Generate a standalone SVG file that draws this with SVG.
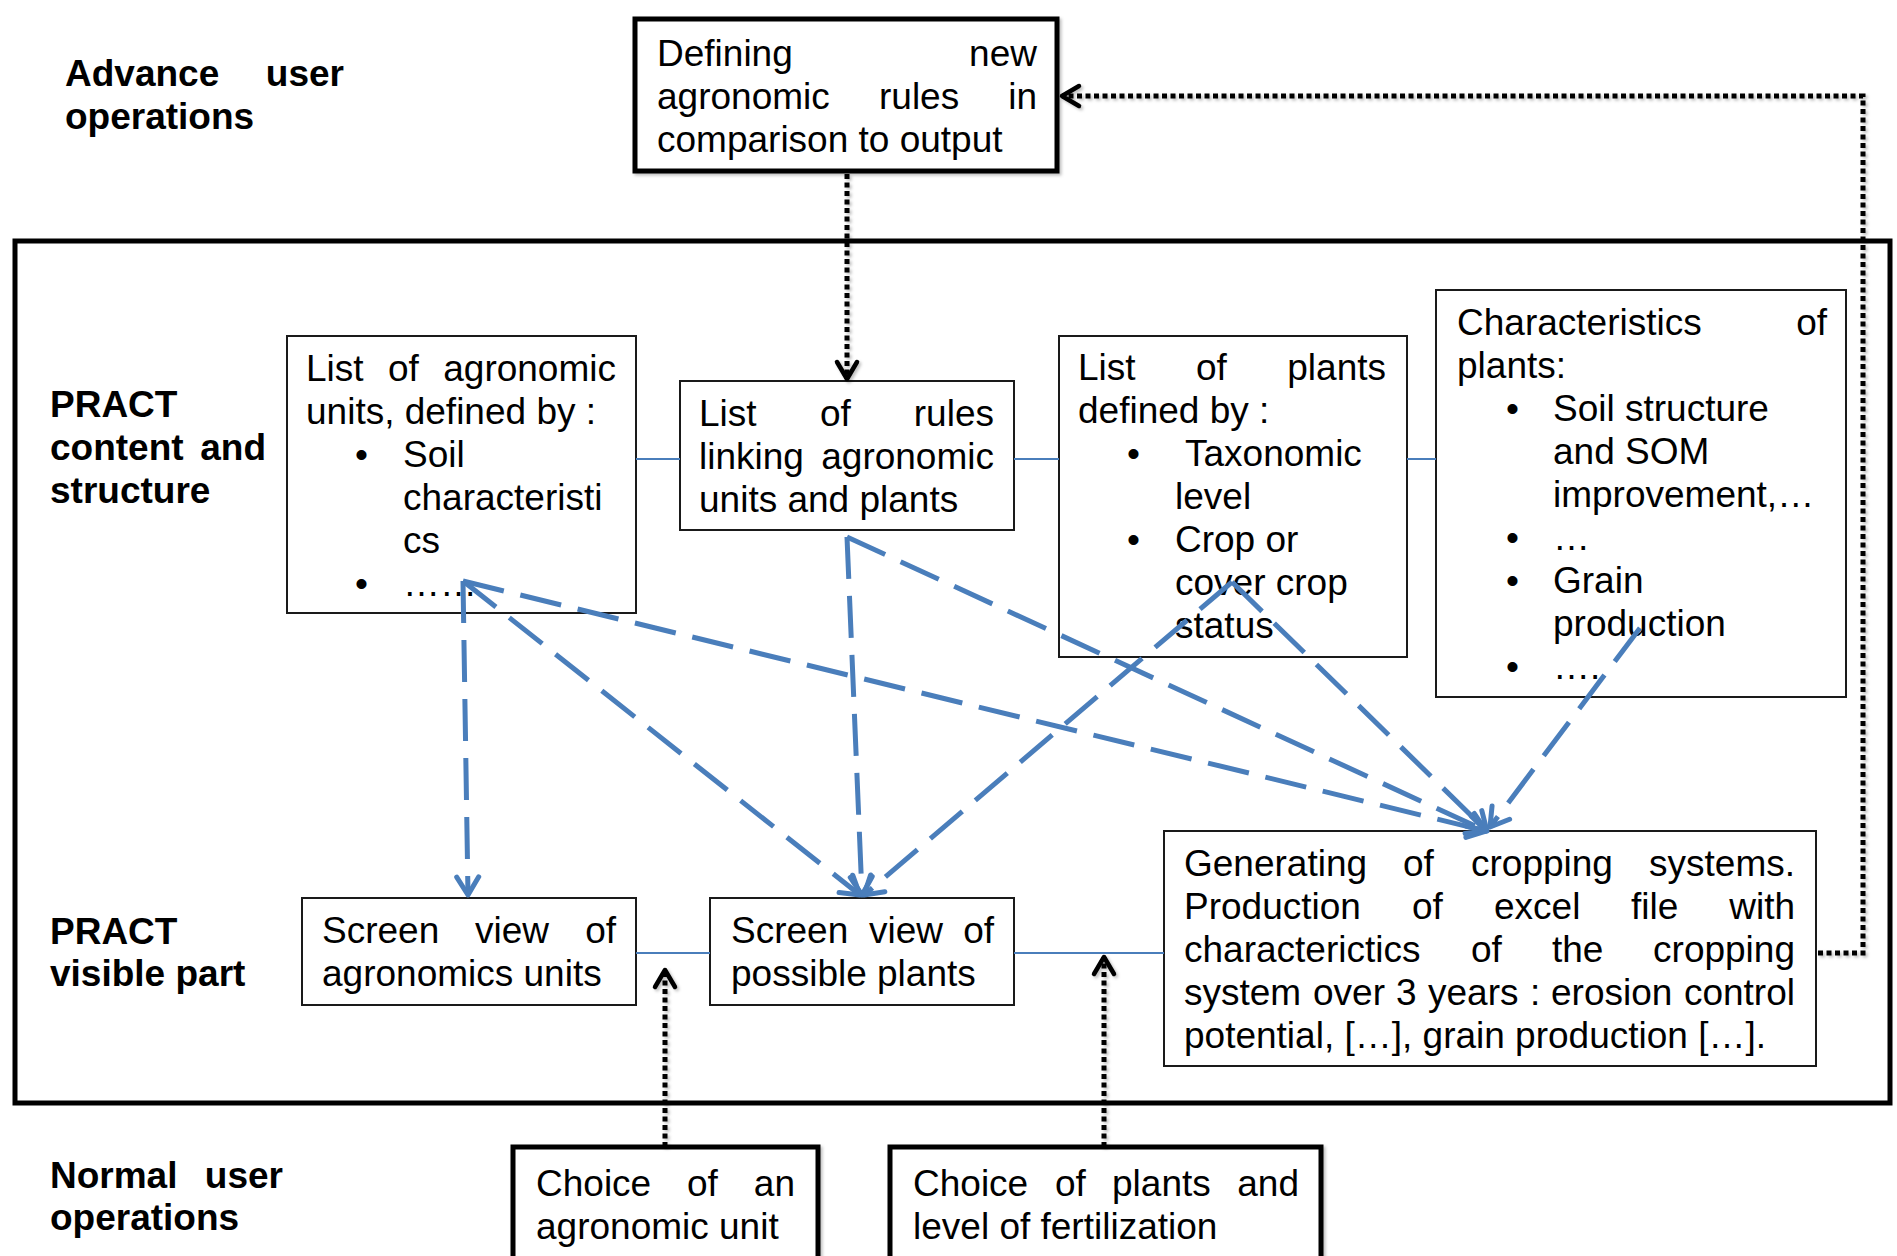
<svg xmlns="http://www.w3.org/2000/svg" width="1897" height="1256" viewBox="0 0 1897 1256">
<style>
text{font-family:"Liberation Sans",Arial,sans-serif;font-size:37px;fill:#000}
.b{font-weight:bold}
.e{text-anchor:end}
.box{fill:#fff;stroke:#1a1a1a;stroke-width:2}
.thick{fill:#fff;stroke:#000;stroke-width:5}
.link{stroke:#4a7ebb;stroke-width:2;fill:none}
.dash{stroke:#4a7ebb;stroke-width:5;fill:none;stroke-dasharray:42 17;marker-end:url(#ab)}
.dot{stroke:#000;stroke-width:5;fill:none;stroke-dasharray:5 3.5;marker-end:url(#ak);filter:url(#sh)}
</style>
<defs>
<marker id="ab" markerUnits="userSpaceOnUse" orient="auto" markerWidth="40" markerHeight="40" refX="20" refY="20" overflow="visible">
<path d="M2 9 L20 20 L2 31" fill="none" stroke="#4a7ebb" stroke-width="5" stroke-linecap="round" stroke-linejoin="round" stroke-dasharray="none"/>
</marker>
<marker id="ak" markerUnits="userSpaceOnUse" orient="auto" markerWidth="40" markerHeight="40" refX="20" refY="20" overflow="visible">
<path d="M3 10 L20 20 L3 30" fill="none" stroke="#000" stroke-width="4.5" stroke-linecap="round" stroke-linejoin="round" stroke-dasharray="none"/>
</marker>
<filter id="sh" filterUnits="userSpaceOnUse" x="0" y="0" width="1897" height="1256">
<feDropShadow dx="2" dy="2" stdDeviation="1.5" flood-color="#000" flood-opacity="0.25"/>
</filter>
</defs>
<rect width="1897" height="1256" fill="#fff"/>

<g id="labels">
<text class="b" x="65" y="86">Advance</text><text class="b e" x="344" y="86">user</text>
<text class="b" x="65" y="129">operations</text>
<text class="b" x="50" y="417">PRACT</text>
<text class="b" x="50" y="460">content</text><text class="b e" x="266" y="460">and</text>
<text class="b" x="50" y="503">structure</text>
<text class="b" x="50" y="944">PRACT</text>
<text class="b" x="50" y="986">visible part</text>
<text class="b" x="50" y="1188">Normal</text><text class="b e" x="283" y="1188">user</text>
<text class="b" x="50" y="1230">operations</text>
</g>

<rect id="frame" x="15" y="241" width="1875" height="862" fill="none" stroke="#000" stroke-width="5"/>

<g id="n-define">
<rect class="thick" x="635" y="19" width="422" height="152" filter="url(#sh)"/>
<text x="657" y="66">Defining</text><text class="e" x="1037" y="66">new</text>
<text x="657" y="109">agronomic</text><text x="879" y="109">rules</text><text class="e" x="1037" y="109">in</text>
<text x="657" y="152">comparison to output</text>
</g>

<g id="n-units">
<rect class="box" x="287" y="336" width="349" height="277"/>
<text x="306" y="381">List</text><text x="388" y="381">of</text><text class="e" x="616" y="381">agronomic</text>
<text x="306" y="424">units, defined by :</text>
<text x="355" y="467">•</text><text x="403" y="467">Soil</text>
<text x="403" y="510">characteristi</text>
<text x="403" y="553">cs</text>
<text x="355" y="596">•</text><text x="403" y="596">……</text>
</g>

<g id="n-rules">
<rect class="box" x="680" y="381" width="334" height="149"/>
<text x="699" y="426">List</text><text x="820" y="426">of</text><text class="e" x="994" y="426">rules</text>
<text x="699" y="469">linking</text><text class="e" x="994" y="469">agronomic</text>
<text x="699" y="512">units and plants</text>
</g>

<g id="n-plants">
<rect class="box" x="1059" y="336" width="348" height="321"/>
<text x="1078" y="380">List</text><text x="1196" y="380">of</text><text class="e" x="1386" y="380">plants</text>
<text x="1078" y="423">defined by :</text>
<text x="1127" y="466">•</text><text x="1185" y="466">Taxonomic</text>
<text x="1175" y="509">level</text>
<text x="1127" y="552">•</text><text x="1175" y="552">Crop or</text>
<text x="1175" y="595">cover crop</text>
<text x="1175" y="638">status</text>
</g>

<g id="n-characteristics">
<rect class="box" x="1436" y="290" width="410" height="407"/>
<text x="1457" y="335">Characteristics</text><text class="e" x="1827" y="335">of</text>
<text x="1457" y="378">plants:</text>
<text x="1506" y="421">•</text><text x="1553" y="421">Soil structure</text>
<text x="1553" y="464">and SOM</text>
<text x="1553" y="507">improvement,…</text>
<text x="1506" y="550">•</text><text x="1553" y="550">…</text>
<text x="1506" y="593">•</text><text x="1553" y="593">Grain</text>
<text x="1553" y="636">production</text>
<text x="1506" y="679">•</text><text x="1553" y="679">….</text>
</g>

<g id="n-screen-units">
<rect class="box" x="302" y="898" width="334" height="107"/>
<text x="322" y="943">Screen</text><text x="475" y="943">view</text><text class="e" x="616" y="943">of</text>
<text x="322" y="986">agronomics units</text>
</g>

<g id="n-screen-plants">
<rect class="box" x="710" y="898" width="304" height="107"/>
<text x="731" y="943">Screen</text><text x="869" y="943">view</text><text class="e" x="994" y="943">of</text>
<text x="731" y="986">possible plants</text>
</g>

<g id="n-generating">
<rect class="box" x="1164" y="831" width="652" height="235"/>
<text x="1184" y="876">Generating</text><text x="1403" y="876">of</text><text x="1471" y="876">cropping</text><text class="e" x="1795" y="876">systems.</text>
<text x="1184" y="919">Production</text><text x="1412" y="919">of</text><text x="1494" y="919">excel</text><text x="1631" y="919">file</text><text class="e" x="1795" y="919">with</text>
<text x="1184" y="962">characterictics</text><text x="1471" y="962">of</text><text x="1552" y="962">the</text><text class="e" x="1795" y="962">cropping</text>
<text x="1184" y="1005">system</text><text x="1313" y="1005">over</text><text x="1396" y="1005">3</text><text x="1428" y="1005">years</text><text x="1530" y="1005">:</text><text x="1551" y="1005">erosion</text><text class="e" x="1795" y="1005">control</text>
<text x="1184" y="1048">potential, […], grain production […].</text>
</g>

<g id="n-choice-unit">
<rect class="thick" x="513" y="1147" width="305" height="130" filter="url(#sh)"/>
<text x="536" y="1196">Choice</text><text x="687" y="1196">of</text><text class="e" x="795" y="1196">an</text>
<text x="536" y="1239">agronomic unit</text>
</g>

<g id="n-choice-plants">
<rect class="thick" x="890" y="1147" width="431" height="130" filter="url(#sh)"/>
<text x="913" y="1196">Choice</text><text x="1055" y="1196">of</text><text x="1112" y="1196">plants</text><text class="e" x="1299" y="1196">and</text>
<text x="913" y="1239">level of fertilization</text>
</g>

<g id="connectors">
<line class="link" x1="636" y1="459" x2="680" y2="459"/>
<line class="link" x1="1014" y1="459" x2="1059" y2="459"/>
<line class="link" x1="1407" y1="459" x2="1436" y2="459"/>
<line class="link" x1="636" y1="953" x2="710" y2="953"/>
<line class="link" x1="1014" y1="953" x2="1164" y2="953"/>
<path class="dash" d="M463 581 L468 895"/>
<path class="dash" d="M463 581 L860 895"/>
<path class="dash" d="M463 581 L1486 831"/>
<path class="dash" d="M847 537 L862 895"/>
<path class="dash" d="M847 537 L1486 831"/>
<path class="dash" d="M1232 582 L864 895"/>
<path class="dash" d="M1232 582 L1487 831"/>
<path class="dash" d="M1640 628 L1490 827"/>
<path class="dot" d="M847 174 L847 379"/>
<path class="dot" d="M1818 953 L1863 953 L1863 96 L1062 96"/>
<path class="dot" d="M665 1147 L665 970"/>
<path class="dot" d="M1104 1147 L1104 957"/>
</g>
</svg>
